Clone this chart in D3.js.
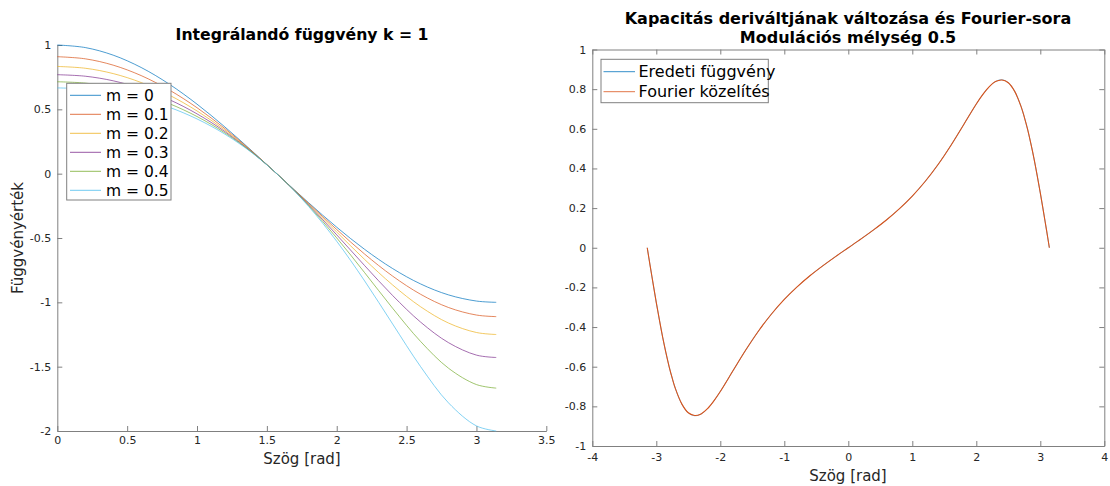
<!DOCTYPE html>
<html><head><meta charset="utf-8">
<script src="https://cdn.jsdelivr.net/npm/d3@7"></script>
<style>
body{margin:0;background:#fff;}
svg{display:block;font-family:"DejaVu Sans",sans-serif;}
</style></head>
<body><svg id="c" width="1110" height="486"></svg>
<script>
// ---------- Left chart data ----------
const thetaL = [0,0.2,0.4,0.6,0.8,1.0,1.2,1.4,1.6,1.8,2.0,2.2,2.4,2.6,2.8,3.0,3.1416];
const mLabels = ["m = 0","m = 0.1","m = 0.2","m = 0.3","m = 0.4","m = 0.5"];
const m0  = [1,0.9801,0.9211,0.8253,0.6967,0.5403,0.3624,0.1700,-0.0292,-0.2272,-0.4162,-0.5885,-0.7374,-0.8569,-0.9422,-0.9900,-1];
const m01 = [0.9091,0.8926,0.8434,0.7624,0.6513,0.5126,0.3497,0.1671,-0.0293,-0.2325,-0.4342,-0.6253,-0.7961,-0.9372,-1.0402,-1.0988,-1.1111];
const m02 = [0.8333,0.8194,0.7778,0.7084,0.6115,0.4876,0.3379,0.1644,-0.0294,-0.2380,-0.4539,-0.6670,-0.8650,-1.0341,-1.1610,-1.2344,-1.25];
const m03 = [0.7692,0.7574,0.7217,0.6615,0.5763,0.4649,0.3268,0.1617,-0.0295,-0.2438,-0.4755,-0.7147,-0.9469,-1.1534,-1.3135,-1.4102,-1.4286];
const m04 = [0.7143,0.7041,0.6731,0.6205,0.5449,0.4443,0.3165,0.1592,-0.0295,-0.2499,-0.4993,-0.7697,-1.0459,-1.3037,-1.5121,-1.6391,-1.6667];
const m05 = [0.6667,0.6577,0.6306,0.5842,0.5167,0.4254,0.3068,0.1567,-0.0296,-0.2563,-0.5255,-0.8339,-1.1680,-1.4992,-1.7815,-1.9604,-2];
const xTicksL = [0,0.5,1,1.5,2,2.5,3,3.5];
const yTicksL = [-2,-1.5,-1,-0.5,0,0.5,1];

// ---------- Right chart data ----------
const thetaR = [-3.1416,-3.1,-3.05,-3.0,-2.95,-2.9,-2.85,-2.8,-2.75,-2.7,-2.6,-2.5,-2.4,-2.3,-2.2,-2.1,-2.0,-1.8,-1.6,-1.4,-1.2,-1.0,-0.8,-0.6,-0.4,-0.2,
                0,0.2,0.4,0.6,0.8,1.0,1.2,1.4,1.6,1.8,2.0,2.1,2.2,2.3,2.4,2.5,2.6,2.7,2.75,2.8,2.85,2.9,2.95,3.0,3.05,3.1,3.1416];
const origR = [0,-0.0830,-0.1814,-0.2767,-0.3673,-0.4519,-0.5293,-0.5988,-0.6597,-0.7117,-0.7890,-0.8328,-0.8474,-0.8384,-0.8116,-0.7723,-0.7250,-0.6197,-0.5147,-0.4186,-0.3340,-0.2608,-0.1973,-0.1415,-0.0913,-0.0447,
               0,0.0447,0.0913,0.1415,0.1973,0.2608,0.3340,0.4186,0.5147,0.6197,0.7250,0.7723,0.8116,0.8384,0.8474,0.8328,0.7890,0.7117,0.6597,0.5988,0.5293,0.4519,0.3673,0.2767,0.1814,0.0830,0];
const fourR = [0,-0.0835,-0.1808,-0.2772,-0.3668,-0.4524,-0.5288,-0.5992,-0.6592,-0.7120,-0.7887,-0.8322,-0.8462,-0.8380,-0.8118,-0.7721,-0.7252,-0.6196,-0.5148,-0.4185,-0.3341,-0.2607,-0.1974,-0.1414,-0.0914,-0.0446,
               0,0.0446,0.0914,0.1414,0.1974,0.2607,0.3341,0.4185,0.5148,0.6196,0.7252,0.7721,0.8118,0.8380,0.8462,0.8322,0.7887,0.7120,0.6592,0.5992,0.5288,0.4524,0.3668,0.2772,0.1808,0.0835,0];
const xTicksR = [-4,-3,-2,-1,0,1,2,3,4];
const yTicksR = [-1,-0.8,-0.6,-0.4,-0.2,0,0.2,0.4,0.6,0.8,1];
const legendR = ["Eredeti függvény","Fourier közelítés"];

const colors = ["#0072BD","#D95319","#EDB120","#7E2F8E","#77AC30","#4DBEEE"];
const axisCol = "#808080", textCol = "#262626";
const fmt = d => String(+d.toFixed(2));

const svg = d3.select("#c");
svg.append("rect").attr("width",1110).attr("height",486).attr("fill","#fff");

function styleAxis(g){
  g.select(".domain").attr("stroke",axisCol).attr("stroke-width",1);
  g.selectAll(".tick line").attr("stroke",axisCol).attr("stroke-width",1);
  g.selectAll(".tick text").attr("fill",textCol).attr("font-size","11px").attr("font-family","DejaVu Sans");
}

// ================= LEFT =================
const xL = d3.scaleLinear().domain([0,3.5]).range([57.3,546.3]);
const yL = d3.scaleLinear().domain([-2,1]).range([431,45]);
const gL = svg.append("g");
gL.append("g").attr("transform","translate(0,431)")
  .call(d3.axisBottom(xL).tickValues(xTicksL).tickFormat(fmt).tickSize(-5).tickSizeOuter(0).tickPadding(5))
  .call(styleAxis);
gL.append("g").attr("transform","translate(57.3,0)")
  .call(d3.axisLeft(yL).tickValues(yTicksL).tickFormat(fmt).tickSize(-5).tickSizeOuter(0).tickPadding(6))
  .call(styleAxis);

const seriesL = [m0,m01,m02,m03,m04,m05];
const lineL = d3.line().x((d,i)=>xL(thetaL[i])).y(d=>yL(d)).curve(d3.curveCatmullRom);
seriesL.forEach((s,k)=>{
  gL.append("path").datum(s).attr("d",lineL).attr("fill","none")
    .attr("stroke",colors[k]).attr("stroke-width",0.7);
});

gL.append("text").attr("x",302).attr("y",40).attr("text-anchor","middle")
  .attr("font-size","15.7px").attr("font-weight","bold").attr("fill","#000")
  .text("Integrálandó függvény k = 1");
gL.append("text").attr("x",302).attr("y",464).attr("text-anchor","middle")
  .attr("font-size","15px").attr("fill",textCol).text("Szög [rad]");
gL.append("text").attr("transform","translate(23,238) rotate(-90)").attr("text-anchor","middle")
  .attr("font-size","15px").attr("fill",textCol).text("Függvényérték");

// legend left
const lgL = gL.append("g");
lgL.append("rect").attr("x",66.7).attr("y",83.3).attr("width",104.3).attr("height",116.7)
  .attr("fill","#fff").attr("stroke",axisCol).attr("stroke-width",1);
mLabels.forEach((t,k)=>{
  const yy = 95.3 + k*19;
  lgL.append("line").attr("x1",70).attr("x2",101).attr("y1",yy).attr("y2",yy)
    .attr("stroke",colors[k]).attr("stroke-width",0.8);
  lgL.append("text").attr("x",106).attr("y",yy).attr("dy","0.35em")
    .attr("font-size","15.5px").attr("fill","#000").text(t);
});

// ================= RIGHT =================
const xR = d3.scaleLinear().domain([-4,4]).range([592.3,1104.3]);
const yR = d3.scaleLinear().domain([-1,1]).range([446,49.5]);
const gR = svg.append("g");
gR.append("g").attr("transform","translate(0,446)")
  .call(d3.axisBottom(xR).tickValues(xTicksR).tickFormat(fmt).tickSize(-5).tickSizeOuter(0).tickPadding(7))
  .call(styleAxis);
gR.append("g").attr("transform","translate(0,49.5)")
  .call(d3.axisTop(xR).tickValues(xTicksR).tickFormat("").tickSize(-5).tickSizeOuter(0))
  .call(styleAxis);
gR.append("g").attr("transform","translate(592.3,0)")
  .call(d3.axisLeft(yR).tickValues(yTicksR).tickFormat(fmt).tickSize(-5).tickSizeOuter(0).tickPadding(6))
  .call(styleAxis);
gR.append("g").attr("transform","translate(1104.3,0)")
  .call(d3.axisRight(yR).tickValues(yTicksR).tickFormat("").tickSize(-5).tickSizeOuter(0))
  .call(styleAxis);

const lineR = d3.line().x((d,i)=>xR(thetaR[i])).y(d=>yR(d)).curve(d3.curveCatmullRom);
gR.append("path").datum(origR).attr("d",lineR).attr("fill","none").attr("stroke",colors[0]).attr("stroke-width",0.5);
gR.append("path").datum(fourR).attr("d",lineR).attr("fill","none").attr("stroke",colors[1]).attr("stroke-width",1.1);

gR.append("text").attr("x",848).attr("y",23.5).attr("text-anchor","middle")
  .attr("font-size","16px").attr("font-weight","bold").attr("fill","#000")
  .text("Kapacitás deriváltjának változása és Fourier-sora");
gR.append("text").attr("x",848).attr("y",43).attr("text-anchor","middle")
  .attr("font-size","16px").attr("font-weight","bold").attr("fill","#000")
  .text("Modulációs mélység 0.5");
gR.append("text").attr("x",848).attr("y",481).attr("text-anchor","middle")
  .attr("font-size","15px").attr("fill",textCol).text("Szög [rad]");

const lgR = gR.append("g");
lgR.append("rect").attr("x",601).attr("y",59.3).attr("width",167.3).attr("height",43.4)
  .attr("fill","#fff").attr("stroke",axisCol).attr("stroke-width",1);
legendR.forEach((t,k)=>{
  const yy = 71.7 + k*20;
  lgR.append("line").attr("x1",603.5).attr("x2",635).attr("y1",yy).attr("y2",yy)
    .attr("stroke",colors[k]).attr("stroke-width",0.8);
  lgR.append("text").attr("x",638.5).attr("y",yy).attr("dy","0.35em")
    .attr("font-size","16px").attr("fill","#000").text(t);
});
</script>
</body></html>
